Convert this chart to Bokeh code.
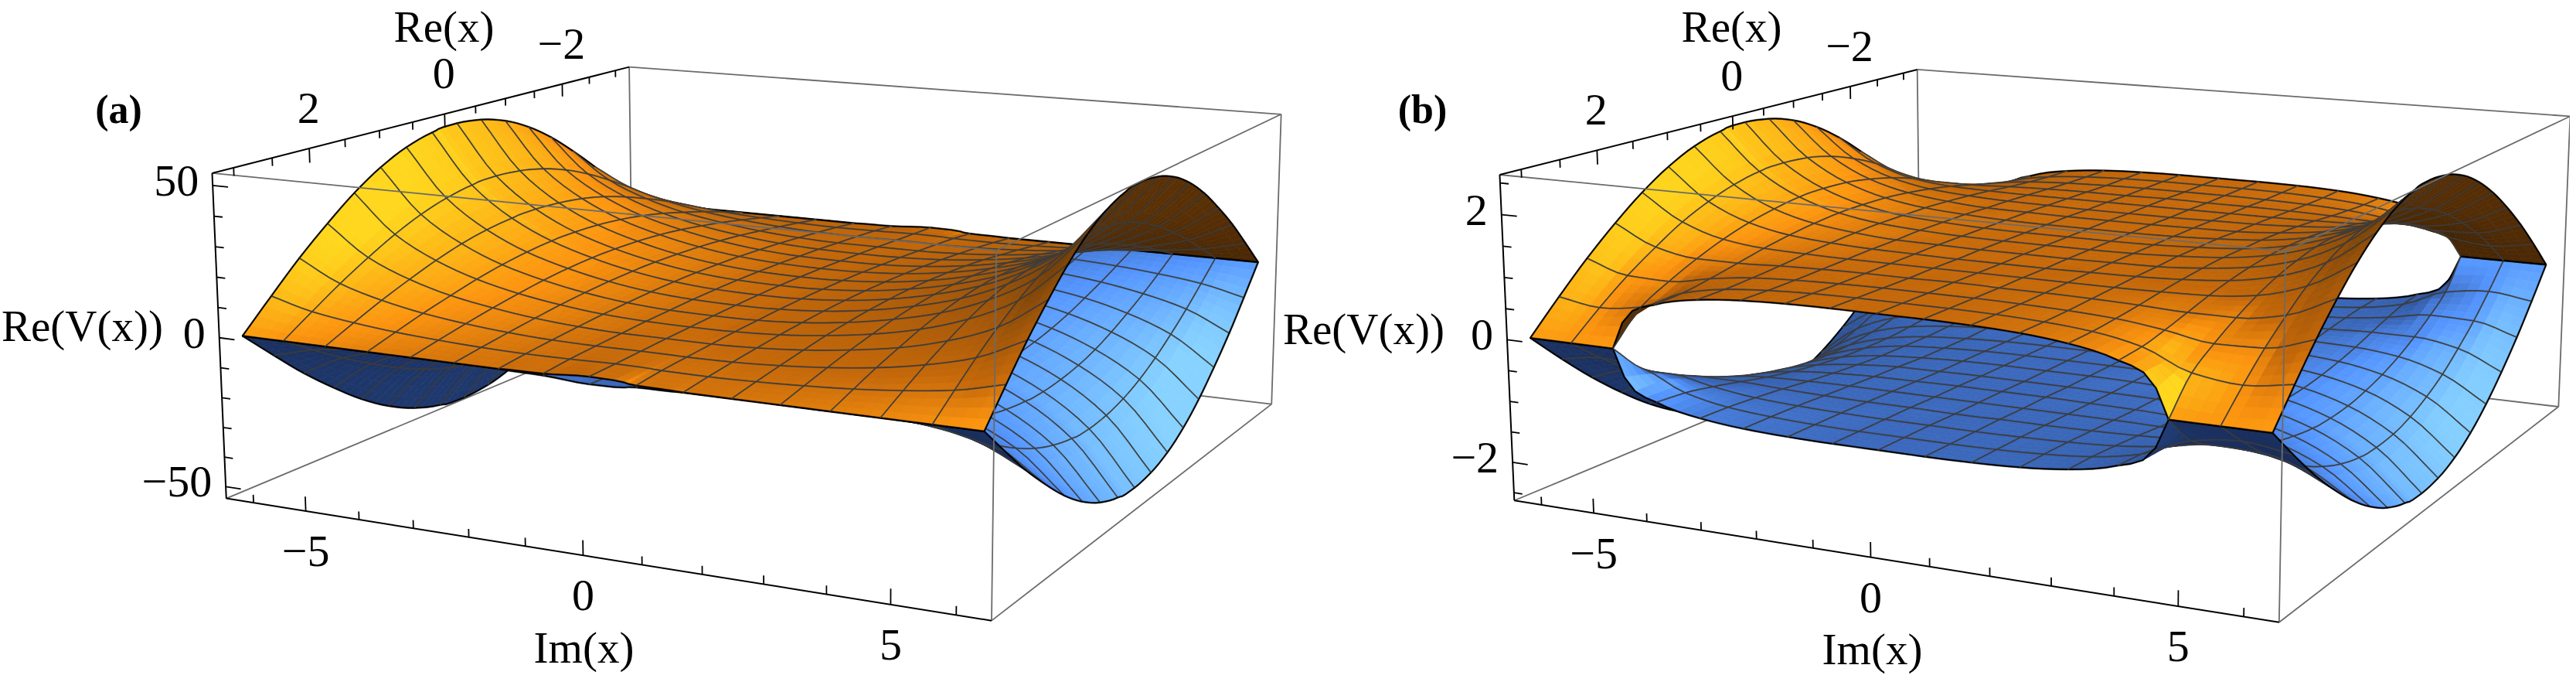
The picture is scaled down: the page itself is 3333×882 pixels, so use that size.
import numpy as np
from bokeh.core.properties import value
from bokeh.embed import file_html
from bokeh.layouts import row
from bokeh.models import ColumnDataSource, Range1d
from bokeh.plotting import figure
from bokeh.resources import INLINE

# ---------- data ----------
re_stations = [0, 0.39, 0.79, 1.18, 1.57, 1.96, 2.36, 2.75, 3.14]
im_stations = [0, 0.79, 1.57, 2.36, 3.14, 3.93, 4.71, 5.50, 6.28]

# sheet height |Re(V)| per Re station, along the Im stations: panel (a)
a_re0 = [4.0, 4.3, 5.4, 7.6, 10.8, 15.4, 22.3, 33.0, 51.0]
a_re1 = [3.9, 4.2, 5.3, 7.4, 10.6, 15.1, 21.8, 32.3, 50.0]
a_re2 = [3.7, 4.0, 5.0, 7.0, 10.0, 14.2, 20.6, 30.4, 47.2]
a_re3 = [3.4, 3.6, 4.5, 6.3, 9.0, 12.8, 18.6, 27.4, 42.6]
a_re4 = [3.0, 3.2, 3.9, 5.4, 7.6, 10.9, 15.8, 23.3, 36.3]
a_re5 = [2.6, 2.6, 3.1, 4.2, 6.0, 8.5, 12.4, 18.3, 28.5]
a_re6 = [2.1, 2.0, 2.2, 2.9, 4.1, 5.9, 8.6, 12.6, 19.7]
a_re7 = [1.6, 1.3, 1.2, 1.5, 2.1, 3.0, 4.4, 6.4, 10.0]
a_re8 = [1.2, 0.3, 0, 0, 0, 0, 0, 0, 0]

# panel (b)
b_re0 = [1.06, 1.06, 1.07, 1.10, 1.15, 1.27, 1.49, 1.88, 2.54]
b_re1 = [1.06, 1.06, 1.07, 1.10, 1.15, 1.26, 1.47, 1.85, 2.49]
b_re2 = [1.06, 1.06, 1.07, 1.08, 1.13, 1.22, 1.40, 1.75, 2.35]
b_re3 = [1.05, 1.05, 1.06, 1.07, 1.10, 1.16, 1.30, 1.59, 2.12]
b_re4 = [1.05, 1.05, 1.05, 1.05, 1.06, 1.08, 1.16, 1.38, 1.81]
b_re5 = [1.05, 1.04, 1.04, 1.03, 1.01, 0.98, 0.98, 1.10, 1.43]
b_re6 = [1.04, 1.04, 1.03, 1.01, 0.97, 0.88, 0.76, 0.78, 0.99]
b_re7 = [1.04, 1.04, 1.03, 1.00, 0.94, 0.80, 0.50, 0.41, 0.51]
b_re8 = [1.04, 1.04, 1.03, 1.00, 0.93, 0.77, 0, 0, 0]

re_major = [2, 0, -2]
re_labels = ["2", "0", "\u22122"]
re_minor = [3, 2.5, 1.5, 1, 0.5, -0.5, -1, -1.5, -2.5, -3]
im_major = [-5, 0, 5]
im_labels = ["\u22125", "0", "5"]
im_minor = [-6, -4, -3, -2, -1, 1, 2, 3, 4, 6]
za_major = [50, 0, -50]
za_labels = ["50", "0", "\u221250"]
za_minor = [40, 30, 20, 10, -10, -20, -30, -40]
zb_major = [2, 0, -2]
zb_labels = ["2", "0", "\u22122"]
zb_minor = [2.5, 1.5, 1, 0.5, -0.5, -1, -1.5, -2.5]

RE_BOX, IM_BOX = 3.27, 6.53
FONT = value("Liberation Serif")
MESH = "#3c3c3c"
GRAY = "#6b6b6b"

ORANGE = [(55, 30, 5), (125, 68, 8), (198, 105, 10), (252, 148, 16), (255, 215, 30)]
BLUE = [(22, 38, 78), (40, 75, 140), (60, 105, 188), (85, 150, 255), (135, 210, 255)]
STOPS = [0, 0.35, 0.55, 0.72, 1.0]
LIGHT = np.array([0.5, 0.7, 0.5]) / np.linalg.norm([0.5, 0.7, 0.5])
SUB = 4


def shade(i, ramp):
    return "#%02x%02x%02x" % tuple(int(np.interp(i, STOPS, [c[k] for c in ramp])) for k in range(3))


def upsample(y, n):
    y = np.asarray(y, float)
    d = np.diff(y)
    m = np.zeros_like(y)
    for k in range(1, len(y) - 1):
        if d[k - 1] * d[k] > 0:
            m[k] = 2 * d[k - 1] * d[k] / (d[k - 1] + d[k])
    m[0], m[-1] = d[0], d[-1]
    out = []
    last = len(d) - 1
    for k in range(len(d)):
        ml, mr = m[k], m[k + 1]
        # a sheet that closes onto the other one does so steeply
        if y[k + 1] == 0 and d[k] < 0 and k < last:
            mr = 3 * d[k]
        if y[k] == 0 and d[k] > 0 and k > 0:
            ml = 3 * d[k]
        for t in np.arange(n) / n:
            h00 = 2 * t**3 - 3 * t**2 + 1
            h10 = t**3 - 2 * t**2 + t
            h01 = -2 * t**3 + 3 * t**2
            h11 = t**3 - t**2
            v = h00 * y[k] + h10 * ml + h01 * y[k + 1] + h11 * mr
            out.append(max(v, 0) if y.min() >= 0 else v)
    out.append(y[-1])
    return np.array(out)


class Camera:
    def __init__(self, corners_px, z_box):
        self.z_box = z_box
        q = [(1, -1, 1), (1, -1, -1), (1, 1, -1), (1, 1, 1), (-1, -1, 1), (-1, 1, 1), (-1, 1, -1)]
        rows = []
        for (a, b, c), (u, v) in zip(q, corners_px):
            u, v = u / 1000, v / 1000
            rows.append([a, b, c, 1, 0, 0, 0, 0, -u * a, -u * b, -u * c, -u])
            rows.append([0, 0, 0, 0, a, b, c, 1, -v * a, -v * b, -v * c, -v])
        self.P = np.linalg.svd(np.array(rows))[2][-1].reshape(3, 4)
        c = np.linalg.svd(self.P)[2][-1]
        self.C = c[:3] / c[3]

    def q(self, re, im, z):
        return np.stack([np.asarray(re, float) / RE_BOX, np.asarray(im, float) / IM_BOX,
                         np.asarray(z, float) / self.z_box], -1)

    def px(self, re, im, z):
        q = self.q(re, im, z)
        h = q @ self.P[:, :3].T + self.P[:, 3]
        return 1000 * h[..., 0] / h[..., 2], 1000 * h[..., 1] / h[..., 2]


def ribbon(x, y, half):
    pts = np.stack([x, y], 1)
    t = np.gradient(pts, axis=0)
    t /= np.maximum(np.linalg.norm(t, axis=1, keepdims=True), 1e-6)
    nrm = np.stack([-t[:, 1], t[:, 0]], 1) * half
    a, b = pts + nrm, (pts - nrm)[::-1]
    return list(a[:, 0]) + list(b[:, 0]), list(a[:, 1]) + list(b[:, 1])


def sheet(cam, table, sign, ramp):
    rows = np.array(table, float)
    full = np.vstack([rows[:0:-1], rows])
    full = np.hstack([full[:, :0:-1], full])
    res = np.array(re_stations)
    res = np.concatenate([-res[:0:-1], res])
    ims = np.array(im_stations)
    ims = np.concatenate([-ims[:0:-1], ims])
    f = np.array([upsample(c, SUB) for c in full])
    f = np.array([upsample(c, SUB) for c in f.T]).T
    re_f = upsample(res, SUB)
    im_f = upsample(ims, SUB)
    RE, IM = np.meshgrid(re_f, im_f, indexing="ij")
    Z = sign * f
    X, Y = cam.px(RE, IM, Z)
    Q = cam.q(RE, IM, Z)
    B = Q * np.array([0.5, 0.5, 0.2])
    cells = [(i, j) for i in range(len(res) - 1) for j in range(len(ims) - 1)]

    def horiz(i, j):
        return np.hypot(Q[i, j, 0] - cam.C[0], Q[i, j, 1] - cam.C[1])

    cells.sort(key=lambda c: -horiz(c[0] * SUB + SUB // 2, c[1] * SUB + SUB // 2))
    xs, ys, col, lw = [], [], [], []
    last_i, last_j = len(res) - 2, len(ims) - 2
    for ci, cj in cells:
        facets = [(ci * SUB + a, cj * SUB + b) for a in range(SUB) for b in range(SUB)]
        facets.sort(key=lambda c: -horiz(*c))
        for i, j in facets:
            n = np.cross(B[i + 1, j + 1] - B[i, j], B[i, j + 1] - B[i + 1, j])
            if n[2] < 0:
                n = -n
            n /= np.linalg.norm(n)
            nq = np.cross(Q[i + 1, j + 1] - Q[i, j], Q[i, j + 1] - Q[i + 1, j])
            if nq[2] < 0:
                nq = -nq
            mid = (Q[i, j] + Q[i + 1, j + 1]) / 2
            top = nq @ (cam.C - mid) > 0
            d = float((n if top else -n) @ LIGHT)
            lum = 0.55 + (d - 0.5) * (1.05 if d > 0.5 else 0.45)
            if not top:
                lum *= 0.4
            c = shade(min(max(lum, 0), 1), ramp)
            xs.append([X[i, j], X[i + 1, j], X[i + 1, j + 1], X[i, j + 1]])
            ys.append([Y[i, j], Y[i + 1, j], Y[i + 1, j + 1], Y[i, j + 1]])
            col.append(c)
            lw.append(0.7)
        i0, j0 = ci * SUB, cj * SUB
        i1, j1 = i0 + SUB, j0 + SUB
        borders = [
            (X[i0, j0:j1 + 1], Y[i0, j0:j1 + 1], ci == 0),
            (X[i1, j0:j1 + 1], Y[i1, j0:j1 + 1], ci == last_i),
            (X[i0:i1 + 1, j0], Y[i0:i1 + 1, j0], cj == 0),
            (X[i0:i1 + 1, j1], Y[i0:i1 + 1, j1], cj == last_j),
        ]
        for bx, by, edge in borders:
            rx, ry = ribbon(bx, by, 0.85 if edge else 0.55)
            xs.append(rx)
            ys.append(ry)
            col.append("#000000" if edge else MESH)
            lw.append(0.5)
    return xs, ys, col, lw


def segs(p, cam, pairs, color, width):
    xs, ys = [], []
    for a, b in pairs:
        x, y = cam.px([a[0] * RE_BOX, b[0] * RE_BOX], [a[1] * IM_BOX, b[1] * IM_BOX],
                      [a[2] * cam.z_box, b[2] * cam.z_box])
        xs.append(list(x))
        ys.append(list(y))
    p.multi_line(xs, ys, line_color=color, line_width=width)


def ticks(p, cam, vals, axis, length):
    xs, ys = [], []
    for v in vals:
        if axis == "re":
            x, y = cam.px([v, v], [-IM_BOX] * 2, [cam.z_box, cam.z_box * (1 - length)])
        elif axis == "im":
            x, y = cam.px([RE_BOX] * 2, [v, v], [-cam.z_box, -cam.z_box * (1 - length)])
        else:
            x, y = cam.px([RE_BOX] * 2, [-IM_BOX, -IM_BOX * (1 - length)], [v, v])
        xs.append(list(x))
        ys.append(list(y))
    p.multi_line(xs, ys, line_color="#000000", line_width=1.8)


def panel(x0, x1, corners, z_box, table, z_major, z_labels, z_minor, tag, tag_xy, titles):
    p = figure(width=x1 - x0, height=874, x_range=Range1d(x0, x1), y_range=Range1d(882, 8),
               output_backend="svg", toolbar_location=None, min_border=0)
    p.axis.visible = False
    p.grid.visible = False
    p.outline_line_color = None
    cam = Camera(corners, z_box)

    TFL, BFL, BFR, TFR = (1, -1, 1), (1, -1, -1), (1, 1, -1), (1, 1, 1)
    TBL, TBR, BBR, BBL = (-1, -1, 1), (-1, 1, 1), (-1, 1, -1), (-1, -1, -1)
    segs(p, cam, [(TBL, TBR), (TBR, BBR), (BBR, BBL), (BBL, TBL), (BFL, BBL), (BFR, BBR)], GRAY, 1.8)

    for sign, ramp in ((-1, BLUE), (1, ORANGE)):
        xs, ys, col, lw = sheet(cam, table, sign, ramp)
        src = ColumnDataSource(dict(xs=xs, ys=ys, col=col, lw=lw))
        p.patches("xs", "ys", source=src, fill_color="col", line_color="col", line_width="lw")

    segs(p, cam, [(TFL, TFR), (TFR, TBR), (TFR, BFR)], GRAY, 1.8)
    segs(p, cam, [(TFL, BFL), (TFL, TBL), (BFL, BFR)], "#000000", 2.0)

    ticks(p, cam, re_major, "re", 0.09)
    ticks(p, cam, re_minor, "re", 0.05)
    ticks(p, cam, im_major, "im", 0.09)
    ticks(p, cam, im_minor, "im", 0.05)
    ticks(p, cam, z_major, "z", 0.045)
    ticks(p, cam, z_minor, "z", 0.025)

    size = "58px"
    x, y = cam.px(re_major, [-IM_BOX] * 3, [z_box] * 3)
    p.text(x - 1, y - 52, text=re_labels, text_font=FONT, text_font_size=size,
           text_align="center", text_baseline="middle", text_color="#000000")
    x, y = cam.px([RE_BOX] * 3, im_major, [-z_box] * 3)
    p.text(x, y + 52, text=im_labels, text_font=FONT, text_font_size=size,
           text_align="center", text_baseline="middle", text_color="#000000")
    x, y = cam.px([RE_BOX] * 3, [-IM_BOX] * 3, z_major)
    p.text(x - 18, y - 6, text=z_labels, text_font=FONT, text_font_size=size,
           text_align="right", text_baseline="middle", text_color="#000000")
    p.text([t[1] for t in titles], [t[2] for t in titles], text=[t[0] for t in titles],
           text_font=FONT, text_font_size="57px", text_align="center", text_baseline="middle",
           text_color="#000000")
    p.text([tag_xy[0]], [tag_xy[1]], text=[tag], text_font=FONT, text_font_size="52px",
           text_font_style="bold", text_align="center", text_baseline="middle", text_color="#000000")
    return p


corners_a = [(282, 230.6), (300.4, 652.4), (1290, 810), (1297, 332), (821.5, 94.5), (1665, 155), (1653, 530)]
corners_b = [(1948, 233.4), (1967, 655), (2956, 812.7), (2965, 332), (2488, 97.3), (3333, 158.6), (3318, 533)]

table_a = [a_re0, a_re1, a_re2, a_re3, a_re4, a_re5, a_re6, a_re7, a_re8]
table_b = [b_re0, b_re1, b_re2, b_re3, b_re4, b_re5, b_re6, b_re7, b_re8]

pa = panel(8, 1667, corners_a, 54.0, table_a, za_major, za_labels, za_minor, "(a)", (161, 149),
           [("Re(x)", 582, 42), ("Re(V(x))", 114, 428.6), ("Im(x)", 763, 845)])
pb = panel(1667, 3333, corners_b, 2.63, table_b, zb_major, zb_labels, zb_minor, "(b)", (1848, 149),
           [("Re(x)", 2248, 42), ("Re(V(x))", 1772, 433), ("Im(x)", 2430, 847)])

open("out.html", "w").write(file_html(row(pa, pb, spacing=0), INLINE))
